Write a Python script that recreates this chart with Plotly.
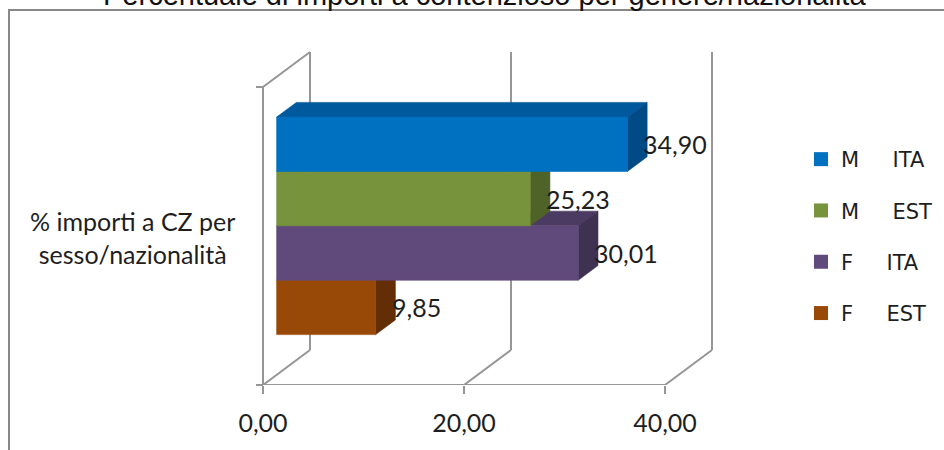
import plotly.graph_objects as go

# ---- data -------------------------------------------------------------
category_label = "% importi a CZ per<br>sesso/nazionalità"
series_names = [
    "M\u00a0\u00a0\u00a0\u00a0\u00a0ITA",
    "M\u00a0\u00a0\u00a0\u00a0\u00a0EST",
    "F\u00a0\u00a0\u00a0\u00a0\u00a0ITA",
    "F\u00a0\u00a0\u00a0\u00a0\u00a0EST",
]
values = [34.90, 25.23, 30.01, 9.85]
value_labels = ["34,90", "25,23", "30,01", "9,85"]
tick_values = [0, 20, 40]
tick_labels = ["0,00", "20,00", "40,00"]
title_text = "Percentuale di importi a contenzioso per genere/nazionalità"

# ---- styles -----------------------------------------------------------
front_colors = ["#0070C0", "#77933C", "#604A7B", "#984807"]
top_colors = ["#00599C", "#5F7830", "#4B3A61", "#7A3A06"]
side_colors = ["#004B85", "#4F6228", "#3F3151", "#632D05"]
frame_color = "rgb(150,150,150)"
text_color = "#1e1e1e"
label_font = "Lato"

# ---- geometry of the pseudo-3D box -----------------------------------
W, H = 944, 450
MARGIN_B = 65
plot_h = H - MARGIN_B
ZERO_PX = 263                      # pixel of value 0 on the front plane
px_per_unit = (665 - 263) / 40.0   # horizontal scale
cat_px = 298                       # height of the category band (front plane)
x_range = [-ZERO_PX / px_per_unit, (W - ZERO_PX) / px_per_unit]
y_range = [-0.5, -0.5 + plot_h / cat_px]

DEPTH_DX = 47 / px_per_unit        # depth vector, in axis units
DEPTH_DY = 35 / cat_px
BAR_FRONT, BAR_BACK = 0.29, 0.71   # bar depth inside the box
BAND = 0.73                        # share of the category used by the bars


def proj(v, y, d):
    return v + d * DEPTH_DX, y + d * DEPTH_DY


def poly(points):
    xs = [p[0] for p in points] + [points[0][0]]
    ys = [p[1] for p in points] + [points[0][1]]
    return xs, ys


fig = go.Figure()

# frame: back wall verticals, floor diagonals, left side wall, front base line
fx, fy = [], []
y_lo, y_hi = -0.5, 0.5
vmax = tick_values[-1]
for t in tick_values:
    a = proj(t, y_lo, 1); b = proj(t, y_hi, 1)
    fx += [a[0], b[0], None]; fy += [a[1], b[1], None]
    a = proj(t, y_lo, 0); b = proj(t, y_lo, 1)
    fx += [a[0], b[0], None]; fy += [a[1], b[1], None]
a = proj(0, y_lo, 0); b = proj(0, y_hi, 0); c = proj(0, y_hi, 1)
fx += [a[0], b[0], c[0], None]; fy += [a[1], b[1], c[1], None]
a = proj(0, y_lo, 0); b = proj(vmax, y_lo, 0)
fx += [a[0], b[0], None]; fy += [a[1], b[1], None]
fig.add_trace(go.Scatter(x=fx, y=fy, mode="lines",
                         line=dict(color=frame_color, width=2),
                         hoverinfo="skip", showlegend=False))

# bars, drawn bottom to top so upper bars hide the lower top faces
n = len(values)
w = BAND / n
for i in reversed(range(n)):
    v = values[i]
    c = BAND / 2 - w * (i + 0.5)
    y0, y1 = c - w / 2, c + w / 2
    top = [proj(0, y1, BAR_FRONT), proj(v, y1, BAR_FRONT),
           proj(v, y1, BAR_BACK), proj(0, y1, BAR_BACK)]
    side = [proj(v, y0, BAR_FRONT), proj(v, y0, BAR_BACK),
            proj(v, y1, BAR_BACK), proj(v, y1, BAR_FRONT)]
    front = [proj(0, y0, BAR_FRONT), proj(v, y0, BAR_FRONT),
             proj(v, y1, BAR_FRONT), proj(0, y1, BAR_FRONT)]
    for pts, col in ((top, top_colors[i]), (side, side_colors[i]),
                     (front, front_colors[i])):
        xs, ys = poly(pts)
        fig.add_trace(go.Scatter(x=xs, y=ys, mode="lines", fill="toself",
                                 fillcolor=col, line=dict(color=col, width=0.6),
                                 hoverinfo="skip", showlegend=False))
    lx, ly = proj(v, c, BAR_FRONT)
    fig.add_annotation(x=lx, y=ly, text=value_labels[i], showarrow=False,
                       xanchor="left", yanchor="middle", xshift=14,
                       font=dict(family=label_font, size=25, color=text_color))

# legend entries
for i in range(n):
    fig.add_trace(go.Scatter(x=[None], y=[None], mode="markers",
                             name=series_names[i], legendgroup=str(i),
                             marker=dict(symbol="square", size=14,
                                         color=front_colors[i])))

# category label
fig.add_annotation(x=132 / W, y=(plot_h - 237) / plot_h, xref="paper", yref="paper",
                   text=category_label, showarrow=False, xanchor="center",
                   yanchor="middle", align="center",
                   font=dict(family=label_font, size=25, color=text_color))

# title (partly above the page)
fig.add_annotation(x=484.5 / W, y=(plot_h + 5) / plot_h, xref="paper", yref="paper",
                   text=title_text, showarrow=False, xanchor="center",
                   yanchor="middle",
                   font=dict(family="Liberation Sans", size=29, color="#111111"))

# chart area border
fig.add_shape(type="rect", xref="paper", yref="paper",
              x0=9 / W, x1=1.05, y0=-0.3, y1=(plot_h - 10) / plot_h,
              line=dict(color="rgb(136,136,136)", width=2))

fig.update_layout(
    width=W, height=H,
    margin=dict(l=0, r=0, t=0, b=MARGIN_B),
    paper_bgcolor="white", plot_bgcolor="white",
    showlegend=True,
    legend=dict(x=801 / W, y=(plot_h - 139) / plot_h, xanchor="left", yanchor="top",
                font=dict(family="DejaVu Sans", size=21, color=text_color),
                tracegroupgap=21, bgcolor="rgba(0,0,0,0)"),
    xaxis=dict(range=x_range, tickvals=tick_values, ticktext=tick_labels,
               ticks="outside", ticklen=8, tickwidth=2, tickcolor=frame_color,
               ticklabelstandoff=8,
               showgrid=False, zeroline=False, showline=False, fixedrange=True,
               tickfont=dict(family=label_font, size=25, color=text_color)),
    yaxis=dict(range=y_range, anchor="free", position=ZERO_PX / W,
               tickvals=[-0.5, 0.5], ticks="outside", ticklen=7, tickwidth=2,
               tickcolor=frame_color, showticklabels=False,
               showgrid=False, zeroline=False, showline=False, fixedrange=True),
)

fig.write_html("out.html")
